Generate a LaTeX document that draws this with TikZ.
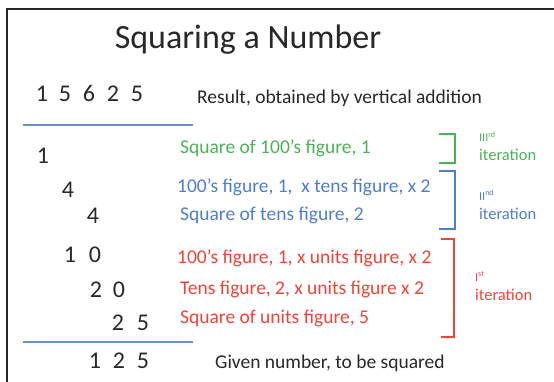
\documentclass[tikz,border=0pt]{standalone}
\usepackage{fontspec}
\setmainfont{Carlito}
\definecolor{cgreen}{RGB}{76,178,86}
\definecolor{cblue}{RGB}{78,126,206}
\definecolor{cred}{RGB}{240,68,56}
\definecolor{cline}{RGB}{104,144,204}
\definecolor{ctext}{RGB}{40,40,40}
\newcommand{\ordsz}{\fontsize{12}{13}\selectfont}
\tikzset{
  dig/.style={anchor=base, inner sep=0pt, text=ctext, font=\fontsize{24}{26}\selectfont},
  lbl/.style={anchor=base west, inner sep=0pt, font=\fontsize{19.5}{21}\selectfont},
  itr/.style={anchor=base west, inner sep=0pt, align=left, font=\fontsize{16.5}{19}\selectfont},
  brk/.style={line width=1.6pt},
  rule/.style={cline, line width=2pt}
}
\begin{document}
\begin{tikzpicture}[x=1pt,y=-1pt]
\useasboundingbox (0,0) rectangle (554,382);
\begin{scope}
\clip (0,0) rectangle (554,382);
\draw[line width=1.4pt, ctext] (7,9) rectangle (600,420);
\end{scope}
\node[anchor=base, inner sep=0pt, text=ctext, font=\fontsize{34}{36}\selectfont] (title) at (248,49) {Squaring a Number};
% result row
\node[dig] (r1) at (42,102) {1};
\node[dig] (r2) at (65,102) {5};
\node[dig] (r3) at (89,102) {6};
\node[dig] (r4) at (113,102) {2};
\node[dig] (r5) at (137,102) {5};
\node[lbl, text=ctext] (result) at (197,104) {Result, obtained by vertical addition};
\coordinate (t1) at (23,125);
\coordinate (t2) at (193,125);
\draw[rule] (t1) -- (t2);
% rows
\node[dig] (a1) at (43,164) {1};
\node[dig] (b1) at (68,197) {4};
\node[dig] (c1) at (93,223) {4};
\node[dig] (d1) at (70,262) {1};
\node[dig] (d2) at (95,262) {0};
\node[dig] (e1) at (96,297) {2};
\node[dig] (e2) at (119,297) {0};
\node[dig] (f1) at (118,330) {2};
\node[dig] (f2) at (143,330) {5};
\coordinate (u1) at (23,342);
\coordinate (u2) at (193,342);
\draw[rule] (u1) -- (u2);
\node[dig] (g1) at (95,368) {1};
\node[dig] (g2) at (119,368) {2};
\node[dig] (g3) at (143,368) {5};
% labels
\node[lbl, text=cgreen] (la) at (180,154) {Square of 100’s figure, 1};
\node[lbl, text=cblue] (lb) at (177,193) {100’s figure, 1,\ \ x tens figure, x 2};
\node[lbl, text=cblue] (lc) at (180,221) {Square of tens figure, 2};
\node[lbl, text=cred] (ld) at (177,263) {100’s figure, 1, x units figure, x 2};
\node[lbl, text=cred] (le) at (180,294) {Tens figure, 2, x units figure x 2};
\node[lbl, text=cred] (lf) at (180,323) {Square of units figure, 5};
\node[lbl, text=ctext] (lg) at (215,368) {Given number, to be squared};
% brackets
\coordinate (ga) at (439,134); \coordinate (gb) at (455,134);
\coordinate (gc) at (455,163); \coordinate (gd) at (439,163);
\draw[brk, cgreen] (ga) -- (gb) -- (gc) -- (gd);
\coordinate (ba) at (439,171); \coordinate (bb) at (455,171);
\coordinate (bc) at (455,229); \coordinate (bd) at (439,229);
\draw[brk, cblue] (ba) -- (bb) -- (bc) -- (bd);
\coordinate (ra) at (441,239); \coordinate (rb) at (454,239);
\coordinate (rc) at (454,337); \coordinate (rd) at (441,337);
\draw[brk, cred] (ra) -- (rb) -- (rc) -- (rd);
% iteration labels
\node[itr, text=cgreen] (i3) at (479,161) {{\ordsz III\textsuperscript{rd}}\\iteration};
\node[itr, text=cblue] (i2) at (479,219) {{\ordsz II\textsuperscript{nd}}\\iteration};
\node[itr, text=cred] (i1) at (475,300) {{\ordsz I\textsuperscript{st}}\\iteration};
\end{tikzpicture}
\end{document}
